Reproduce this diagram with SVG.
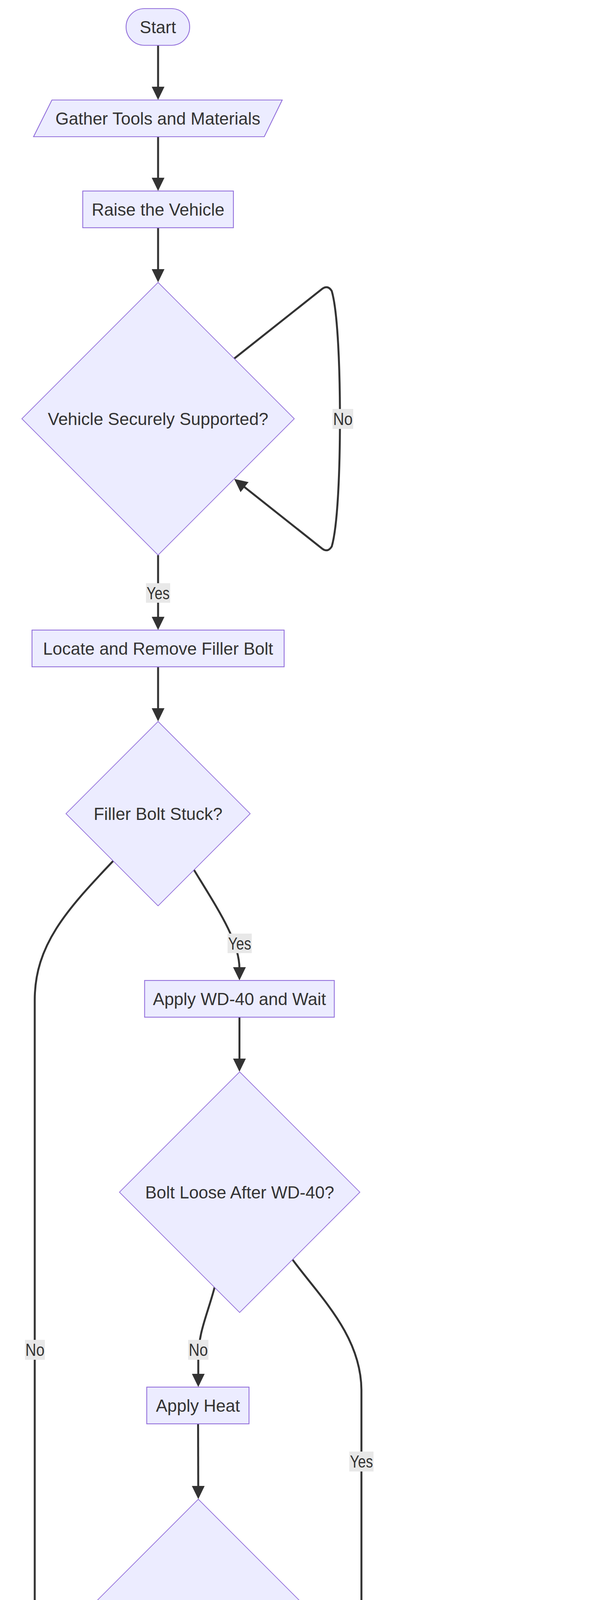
<svg xmlns="http://www.w3.org/2000/svg" width="1568" height="6724" viewBox="0 0 1568 6724">
<style>
.node{fill:#ECECFF;stroke:#9370DB;stroke-width:2.2}
.dia{fill:#ECECFF;stroke:#9370DB;stroke-width:1.8}
.t{font-family:"Liberation Sans",Arial,sans-serif;font-size:44px;fill:#333333;text-anchor:middle}
.e{fill:none;stroke:#333333;stroke-width:5}
.lb{fill:#e8e8e8}
</style>
<defs>
<marker id="ah" viewBox="0 0 10 10" markerUnits="userSpaceOnUse" markerWidth="34" markerHeight="33" refX="8" refY="5" orient="auto" preserveAspectRatio="none">
<path d="M0,0 L10,5 L0,10 z" fill="#333333"/>
</marker>
</defs>
<rect width="1568" height="6724" fill="#ffffff"/>
<g id="edges">
<path class="e" marker-end="url(#ah)" d="M405,116 L405,249"/>
<path class="e" marker-end="url(#ah)" d="M405,350 L405,482"/>
<path class="e" marker-end="url(#ah)" d="M405,583 L405,716"/>
<path class="e" marker-end="url(#ah)" d="M600,918 L826,739 Q840,729 850,745 C866,800 871,950 871,1072 C871,1194 866,1344 850,1399 Q840,1415 826,1405 L605.3,1230.2"/>
<path class="e" marker-end="url(#ah)" d="M405,1421 L405,1606"/>
<path class="e" marker-end="url(#ah)" d="M405,1707 L405,1840"/>
<path class="e" marker-end="url(#ah)" d="M290,2204 C170,2330 89,2420 89,2560 L89,4250 C89,4550 200,4600 362,4666"/>
<path class="e" marker-end="url(#ah)" d="M497,2227 C560,2330 613.5,2410 613.5,2480 L613.5,2503"/>
<path class="e" marker-end="url(#ah)" d="M613.5,2604 L613.5,2737"/>
<path class="e" marker-end="url(#ah)" d="M550,3295 C530,3370 508,3410 508,3480 L508,3544"/>
<path class="e" marker-end="url(#ah)" d="M749,3224 C820,3320 926,3420 926,3560 L926,4168 C926,4450 880,4580 652.6,4665"/>
<path class="e" marker-end="url(#ah)" d="M507.5,3645 L508,3831"/>
<path class="e" marker-end="url(#ah)" d="M508,4478 L508,4662"/>
<path class="e" marker-end="url(#ah)" d="M708,4278 L1100,4530 C1170,4580 1186,4610 1186,4640 L1186,4662"/>
<path class="e" marker-end="url(#ah)" d="M507.5,4763 L507.5,4897"/>
<path class="e" marker-end="url(#ah)" d="M507.5,4997 L507.5,5130"/>
<path class="e" marker-end="url(#ah)" d="M507.5,5231 L507.5,5363"/>
<path class="e" marker-end="url(#ah)" d="M507.5,5464 L507.5,5597"/>
<path class="e" marker-end="url(#ah)" d="M507.5,5697.5 L507.5,5830"/>
<path class="e" marker-end="url(#ah)" d="M507.5,5932 L507.5,6064"/>
<path class="e" marker-end="url(#ah)" d="M507.5,6165.5 L507.5,6298"/>
<path class="e" marker-end="url(#ah)" d="M507.5,6399 L507.5,6531"/>
<g id="edge-labels">
<rect class="lb" x="852" y="1047" width="53" height="51"/><text class="t" x="878.5" y="1088" textLength="50" lengthAdjust="spacingAndGlyphs">No</text>
<rect class="lb" x="374" y="1493" width="62" height="50"/><text class="t" x="405" y="1534" textLength="59" lengthAdjust="spacingAndGlyphs">Yes</text>
<rect class="lb" x="583" y="2390" width="62" height="50"/><text class="t" x="614" y="2431" textLength="59" lengthAdjust="spacingAndGlyphs">Yes</text>
<rect class="lb" x="64" y="3430" width="51" height="51"/><text class="t" x="89.5" y="3471" textLength="49" lengthAdjust="spacingAndGlyphs">No</text>
<rect class="lb" x="482" y="3430" width="52" height="51"/><text class="t" x="508" y="3471" textLength="49" lengthAdjust="spacingAndGlyphs">No</text>
<rect class="lb" x="895" y="3716" width="62" height="51"/><text class="t" x="926" y="3757" textLength="59" lengthAdjust="spacingAndGlyphs">Yes</text>
<rect class="lb" x="476" y="4549" width="63" height="50"/><text class="t" x="507.5" y="4590" textLength="59" lengthAdjust="spacingAndGlyphs">Yes</text>
<rect class="lb" x="1161" y="4548" width="52" height="51"/><text class="t" x="1187" y="4590" textLength="49" lengthAdjust="spacingAndGlyphs">No</text>
</g>
</g>
<g id="n-start"><rect class="node" x="323" y="22" width="163" height="94" rx="47" ry="47"/><text class="t" x="404.5" y="85">Start</text></g>
<g id="n-gather"><polygon class="node" points="133,256 723,256 677,350 86,350"/><text class="t" x="404.5" y="319">Gather Tools and Materials</text></g>
<g id="n-raise"><rect class="node" x="212" y="489" width="386" height="94"/><text class="t" x="405" y="552">Raise the Vehicle</text></g>
<g id="n-d1"><polygon class="dia" points="405,723 754,1072 405,1421 56,1072"/><text class="t" x="405" y="1088">Vehicle Securely Supported?</text></g>
<g id="n-locate"><rect class="node" x="82" y="1613" width="646" height="94"/><text class="t" x="405" y="1676">Locate and Remove Filler Bolt</text></g>
<g id="n-d2"><polygon class="dia" points="405,1847 641,2083 405,2319 169,2083"/><text class="t" x="405" y="2099">Filler Bolt Stuck?</text></g>
<g id="n-wd40"><rect class="node" x="370.5" y="2510" width="486" height="94"/><text class="t" x="613.5" y="2573">Apply WD-40 and Wait</text></g>
<g id="n-d3"><polygon class="dia" points="614,2744 922,3052 614,3360 306,3052"/><text class="t" x="614" y="3068">Bolt Loose After WD-40?</text></g>
<g id="n-heat"><rect class="node" x="376" y="3551" width="262" height="94"/><text class="t" x="507" y="3614">Apply Heat</text></g>
<g id="n-d4"><polygon class="dia" points="508,3838 828,4158 508,4478 188,4158"/><text class="t" x="508" y="4174">Bolt Loose After Heating?</text></g>
<g id="n-loosen"><rect class="node" x="311" y="4669" width="393" height="94"/><text class="t" x="507.5" y="4732">Loosen Filler Bolt</text></g>
<g id="n-endseek"><rect class="node" x="843" y="4669" width="686" height="94" rx="47" ry="47"/><text class="t" x="1186" y="4732">End - Seek Professional Service</text></g>
<g id="n-drain"><rect class="node" x="358.5" y="4903.5" width="298.5" height="94"/><text class="t" x="507.5" y="4966">Drain the Oil</text></g>
<g id="n-repdrain"><rect class="node" x="301" y="5137" width="412.5" height="94"/><text class="t" x="507.5" y="5200">Replace Drain Bolt</text></g>
<g id="n-addoil"><rect class="node" x="308.5" y="5370" width="398" height="94"/><text class="t" x="507.5" y="5433">Add New Gear Oil</text></g>
<g id="n-repfiller"><rect class="node" x="301.5" y="5604" width="411.5" height="94"/><text class="t" x="507.5" y="5667">Replace Filler Bolt</text></g>
<g id="n-completed"><polygon class="node" points="68,5837 993.5,5837 946.5,5932 21,5932"/><text class="t" x="507.5" y="5900">Manual Transmission Oil Change Completed</text></g>
<g id="n-clean"><rect class="node" x="247.5" y="6071" width="520.5" height="94.5"/><text class="t" x="507.5" y="6134">Clean Up and Test Drive</text></g>
<g id="n-recycle"><rect class="node" x="319.5" y="6305" width="375.5" height="94"/><text class="t" x="507.5" y="6368">Recycle Used Oil</text></g>
<g id="n-end"><rect class="node" x="437.5" y="6538.5" width="139.5" height="94" rx="47" ry="47"/><text class="t" x="507.5" y="6601">End</text></g>
</svg>
